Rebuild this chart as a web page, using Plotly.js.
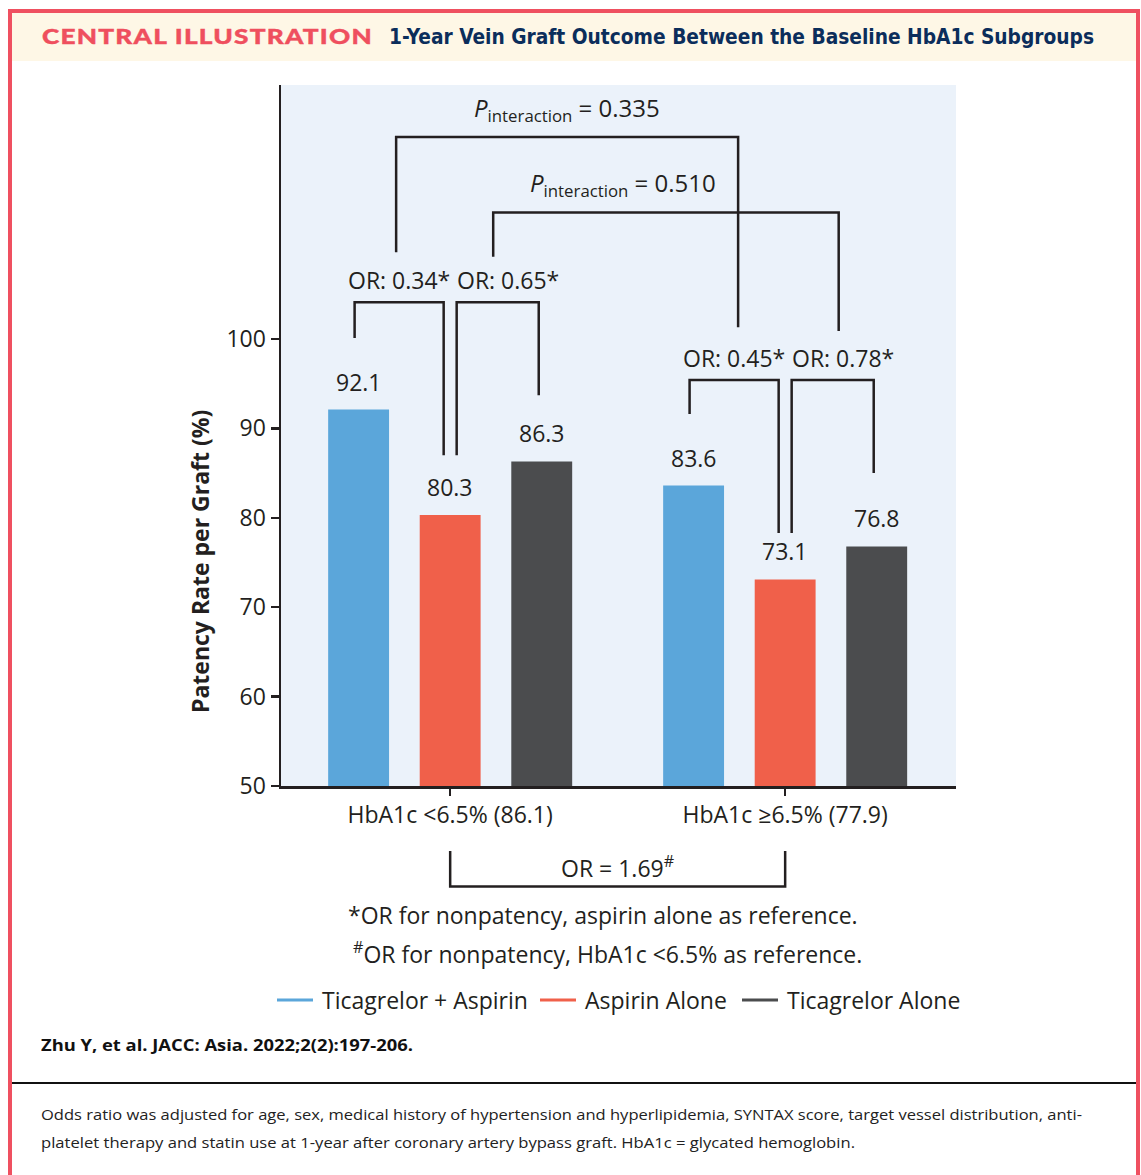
<!DOCTYPE html>
<html>
<head>
<meta charset="utf-8">
<script src="https://cdn.plot.ly/plotly-3.0.1.min.js"></script>
<style>
  html, body { margin: 0; padding: 0; background: #ffffff; }
  #page { position: relative; width: 1141px; height: 1175px; overflow: hidden; background: #ffffff; }
  #frame { position: absolute; left: 8px; top: 9px; width: 1124px; height: 1300px;
           border: 4px solid #EF5060; border-bottom: none; }
  #band { position: absolute; left: 12px; top: 13px; width: 1124px; height: 48px; background: #FEF7E6; }
  #rule { position: absolute; left: 12px; top: 1082px; width: 1124px; height: 2px; background: #111111; }
  .txt { position: absolute; white-space: nowrap; display: inline-block; transform-origin: left top; }
  #kicker { left: 42px; top: 26.1px; font: 900 21.5px Lato, Roboto, sans-serif; line-height: 21.5px;
            color: #EF4F5E; letter-spacing: 1px; -webkit-text-stroke: 0.4px #EF4F5E; }
  #title { left: 389px; top: 26.5px; font: 700 21px "DejaVu Sans Condensed", "DejaVu Sans", sans-serif;
           line-height: 21px; color: #0B2D5B; }
  #cite { left: 41px; top: 1036.5px; font: 700 16px "Open Sans", sans-serif; line-height: 16px; color: #111111; }
  .cap { left: 41px; font: 400 15px "Open Sans", sans-serif; line-height: 15px; color: #222222; }
  #plot { position: absolute; left: 0; top: 0; width: 1141px; height: 1175px; }
</style>
</head>
<body>
<div id="page">
  <div id="frame"></div>
  <div id="band"></div>
  <span id="kicker" class="txt">CENTRAL ILLUSTRATION</span>
  <span id="title" class="txt">1-Year Vein Graft Outcome Between the Baseline HbA1c Subgroups</span>
  <span id="cite" class="txt">Zhu Y, et al. JACC: Asia. 2022;2(2):197-206.</span>
  <div id="rule"></div>
  <span id="cap1" class="txt cap" style="top:1106.7px">Odds ratio was adjusted for age, sex, medical history of hypertension and hyperlipidemia, SYNTAX score, target vessel distribution, anti-</span>
  <span id="cap2" class="txt cap" style="top:1135px">platelet therapy and statin use at 1-year after coronary artery bypass graft. HbA1c = glycated hemoglobin.</span>
  <div id="plot"></div>
</div>
<script>
// ---------------- data ----------------
const categories = ["HbA1c <6.5% (86.1)", "HbA1c \u22656.5% (77.9)"];
const seriesNames = ["Ticagrelor + Aspirin", "Aspirin Alone", "Ticagrelor Alone"];
const ticagrelorAspirin = [92.1, 83.6];
const aspirinAlone = [80.3, 73.1];
const ticagrelorAlone = [86.3, 76.8];
const yTickValues = [50, 60, 70, 80, 90, 100];
const yAxisTitle = "Patency Rate per Graft (%)";
const orWithinGroup = [["0.34", "0.65"], ["0.45", "0.78"]];   // vs aspirin alone
const pInteraction = ["0.335", "0.510"];
const orBetweenGroups = "1.69";
const footnotes = ["*OR for nonpatency, aspirin alone as reference.",
                   "<sup>#</sup>OR for nonpatency, HbA1c &lt;6.5% as reference."];

// ---------------- styling / geometry ----------------
const colors = ["#5BA6DA", "#F0604A", "#4B4C4E"];
const ink = "#231F20";
const FONT = "Open Sans, Noto Sans, sans-serif";
const WT = 500;
const M = {l: 281, r: 185, t: 85, b: 389};
const W = 1141, H = 1175;
const plotW = W - M.l - M.r, plotH = H - M.t - M.b;
const xRange = [-0.505, 1.51];
const yRange = [50, 128.41];
const bargap = 0.18, bargroupgap = 0.335;
const slot = (1 - bargap) / 3;
const pxX = plotW / (xRange[1] - xRange[0]);
const dx = p => p / pxX;
const pyToPaper = py => (M.t + plotH - py) / plotH;
const pxToPaper = px => (px - M.l) / plotW;
const barX = (c, s) => c + (s - 1) * slot;
const series = [ticagrelorAspirin, aspirinAlone, ticagrelorAlone];
const escapeHtml = s => s.replace(/</g, "&lt;");
const txtFont = (size) => ({size: size, color: ink, family: FONT, weight: WT});

// bracket levels (y in data units)
const orTop = [104.1, 95.4];
const legBottom = [[100.1, 87.0, 93.7], [91.6, 78.3, 85.0]];
const legShiftPx = [-4, 6.5, -3];
const pTop = [122.6, 114.15];
const pLeftBottom = [109.7, 109.2];
const pRightBottom = [101.3, 100.9];
const pLegShiftPx = [[-3, 4], [-4.5, 6]];
const pTextShiftPx = [0, -43];
// legend layout (pixels)
const legendLineX = [277, 540, 742];
const legendLineLen = 36;
const legendTextGap = 7;
const legendY = 1000;

const traces = series.map((vals, s) => ({
  type: "bar", x: [0, 1], y: vals, name: seriesNames[s],
  marker: {color: colors[s], line: {width: 0}}, showlegend: false, hoverinfo: "skip"
}));

const shapes = [];
const annotations = [];
const lineStyle = {color: ink, width: 2.5};
const bracket = (x0, y0b, x1, y1b, top) => shapes.push({
  type: "path", xref: "x", yref: "y", layer: "above", line: lineStyle,
  path: `M${x0},${y0b} L${x0},${top} L${x1},${top} L${x1},${y1b}`
});

// bar value labels
series.forEach((vals, s) => vals.forEach((v, c) => annotations.push({
  x: barX(c, s), y: v, xref: "x", yref: "y", text: v.toFixed(1), showarrow: false,
  yanchor: "middle", yshift: 28, font: txtFont(23)
})));

// OR brackets within each HbA1c group
const orMid = [[], []];
[0, 1].forEach(c => {
  [[0, 1], [1, 2]].forEach((pair, k) => {
    const a = pair[0], b = pair[1];
    const xa = barX(c, a) + dx(a === 1 ? legShiftPx[1] : legShiftPx[a]);
    const xb = barX(c, b) + dx(b === 1 ? -legShiftPx[1] : legShiftPx[b]);
    bracket(xa, legBottom[c][a], xb, legBottom[c][b], orTop[c]);
    const mid = (xa + xb) / 2;
    orMid[c][k] = mid;
    annotations.push({
      x: mid, y: orTop[c], xref: "x", yref: "y", text: "OR: " + orWithinGroup[c][k] + "*",
      showarrow: false, yanchor: "middle", yshift: 22, xshift: k === 1 ? 10 : 0,
      font: txtFont(23)
    });
  });
});

// P interaction brackets
[0, 1].forEach(k => {
  const x0 = orMid[0][k] + dx(pLegShiftPx[k][0]);
  const x1 = orMid[1][k] + dx(pLegShiftPx[k][1]);
  bracket(x0, pLeftBottom[k], x1, pRightBottom[k], pTop[k]);
  annotations.push({
    x: (x0 + x1) / 2, y: pTop[k], xref: "x", yref: "y",
    text: "<i>P</i><sub>interaction</sub> = " + pInteraction[k],
    showarrow: false, yanchor: "middle", yshift: 28, xshift: pTextShiftPx[k],
    font: txtFont(24)
  });
});

// between-group bracket below the axis
shapes.push({
  type: "path", xref: "x", yref: "paper", layer: "above", line: lineStyle,
  path: `M0,${pyToPaper(851)} L0,${pyToPaper(886.5)} L1,${pyToPaper(886.5)} L1,${pyToPaper(851)}`
});
annotations.push({
  x: 0.5, y: pyToPaper(866.5), xref: "x", yref: "paper", showarrow: false, yanchor: "middle",
  text: "OR = " + orBetweenGroups + "<sup>#</sup>", font: txtFont(23)
});
annotations.push({
  x: pxToPaper(603), y: pyToPaper(915), xref: "paper", yref: "paper", showarrow: false,
  yanchor: "middle", text: footnotes[0], font: txtFont(23)
});
annotations.push({
  x: pxToPaper(607), y: pyToPaper(953), xref: "paper", yref: "paper", showarrow: false,
  yanchor: "middle", text: footnotes[1], font: txtFont(23)
});

// y-axis title, centred on the labelled part of the axis
annotations.push({
  x: pxToPaper(200), y: pyToPaper(562), xref: "paper", yref: "paper", showarrow: false,
  xanchor: "center", yanchor: "middle", textangle: -90, text: yAxisTitle,
  font: {size: 23, color: ink, family: FONT, weight: 700}
});

// legend: line samples + labels
seriesNames.forEach((n, s) => {
  shapes.push({
    type: "line", xref: "paper", yref: "paper",
    x0: pxToPaper(legendLineX[s]), x1: pxToPaper(legendLineX[s] + legendLineLen),
    y0: pyToPaper(legendY), y1: pyToPaper(legendY), line: {color: colors[s], width: 3}
  });
  annotations.push({
    x: pxToPaper(legendLineX[s] + legendLineLen + legendTextGap), y: pyToPaper(legendY),
    xref: "paper", yref: "paper", xanchor: "left", yanchor: "middle", showarrow: false,
    text: n, font: txtFont(23)
  });
});

const layout = {
  width: W, height: H, margin: M, autosize: false,
  paper_bgcolor: "rgba(0,0,0,0)", plot_bgcolor: "#EBF2FA",
  barmode: "group", bargap: bargap, bargroupgap: bargroupgap,
  font: {family: FONT, color: ink, size: 23},
  xaxis: {
    range: xRange, tickvals: [0, 1], ticktext: categories.map(escapeHtml),
    showline: true, linecolor: ink, linewidth: 2.5, ticks: "outside", ticklen: 7, tickwidth: 2.5,
    tickcolor: ink, showgrid: false, zeroline: false, tickfont: txtFont(23),
    fixedrange: true
  },
  yaxis: {
    range: yRange, tickvals: yTickValues, showline: true, linecolor: ink, linewidth: 2.5,
    ticks: "outside", ticklen: 8, tickwidth: 2.5, tickcolor: ink, showgrid: false, zeroline: false,
    tickfont: txtFont(23), fixedrange: true
  },
  shapes: shapes, annotations: annotations, showlegend: false
};

Plotly.newPlot("plot", traces, layout, {staticPlot: true, displayModeBar: false});

// fit header/footer text widths to the reference
function fit(id, target) {
  const el = document.getElementById(id);
  const w = el.getBoundingClientRect().width;
  if (w > 0) el.style.transform = "scaleX(" + (target / w) + ")";
}
fit("kicker", 331);
fit("title", 705);
fit("cite", 372);
fit("cap1", 1041);
fit("cap2", 814);
</script>
</body>
</html>
